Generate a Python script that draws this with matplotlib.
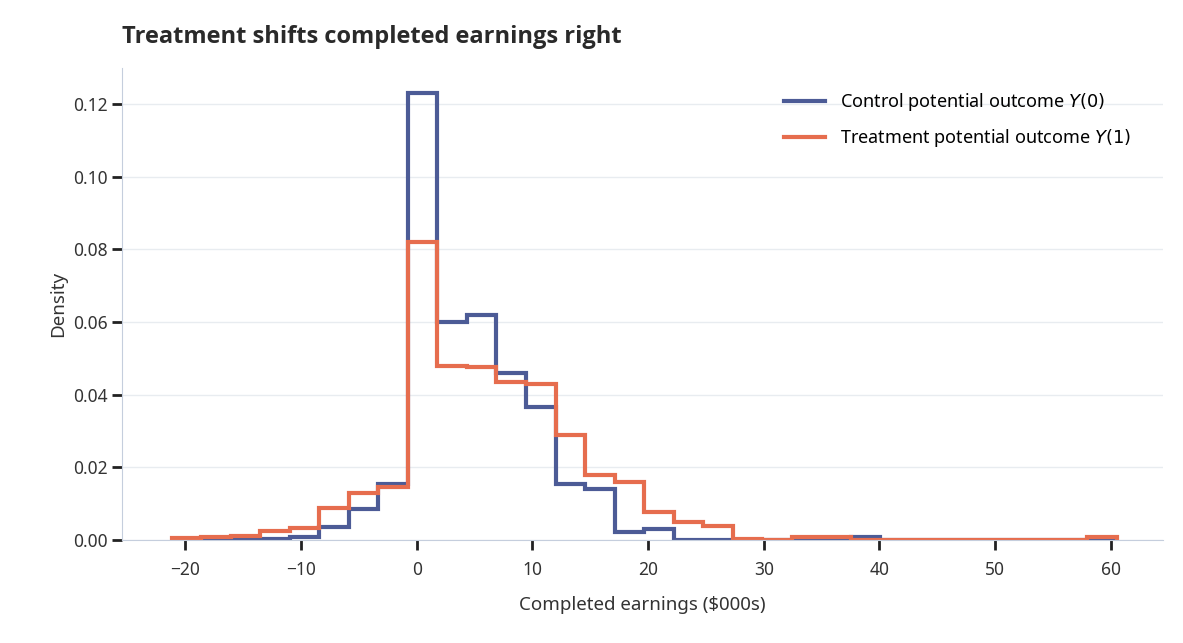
import numpy as np
import matplotlib
matplotlib.use("Agg")
import matplotlib.pyplot as plt

edges = np.linspace(-21.2, 60.5, 33)
control = [0, 0, 0, 0.0003, 0.0008, 0.0035, 0.0085, 0.0155, 0.123, 0.060, 0.062, 0.046,
           0.0365, 0.0155, 0.014, 0.0023, 0.003, 0, 0, 0, 0, 0, 0, 0.0008,
           0, 0, 0, 0, 0, 0, 0, 0]
treat = [0.0005, 0.0008, 0.0012, 0.0025, 0.0033, 0.0087, 0.013, 0.0145, 0.082, 0.048, 0.0475, 0.0435,
         0.043, 0.029, 0.018, 0.016, 0.0078, 0.005, 0.004, 0.0003, 0, 0.0008, 0.0008, 0,
         0, 0, 0, 0, 0, 0, 0, 0.0008]

plt.rcParams['font.family'] = ['Noto Sans', 'DejaVu Sans']
fig, ax = plt.subplots(figsize=(11.83, 6.43), dpi=100)
fig.subplots_adjust(left=0.103, right=0.983, top=0.895, bottom=0.16)
ax.stairs(control, edges, color='#4C5B96', lw=3, label='Control potential outcome $Y(0)$')
ax.stairs(treat, edges, color='#E66D4E', lw=3, label='Treatment potential outcome $Y(1)$')
ax.set_xlim(-25.5, 64.5)
ax.set_ylim(0, 0.13)
ax.set_yticks(np.arange(0, 0.121, 0.02))
ax.set_xticks(np.arange(-20, 61, 10))
ax.set_xticklabels(['−20', '−10', '0', '10', '20', '30', '40', '50', '60'])
ax.grid(axis='y', color='#E8ECF0', lw=1)
ax.set_axisbelow(True)
for s in ['top', 'right']:
    ax.spines[s].set_visible(False)
for s in ['left', 'bottom']:
    ax.spines[s].set_color('#C5CEDD')
ax.tick_params(axis='both', length=7, width=2, color='#222222', labelsize=12.5, labelcolor='#333333')
ax.tick_params(axis='x', pad=8)
ax.set_xlabel('Completed earnings ($000s)', fontsize=13.5, color='#333333', labelpad=12)
ax.set_ylabel('Density', fontsize=13.5, color='#333333')
ax.set_title('Treatment shifts completed earnings right', loc='left', fontsize=17,
             fontweight='bold', family=['Open Sans', 'DejaVu Sans'], color='#2a2a2a', pad=18)
ax.legend(loc='upper right', bbox_to_anchor=(0.985, 0.985), frameon=False, fontsize=13,
          handlelength=2.3, labelspacing=0.8)
fig.savefig('out.png', dpi=100)
